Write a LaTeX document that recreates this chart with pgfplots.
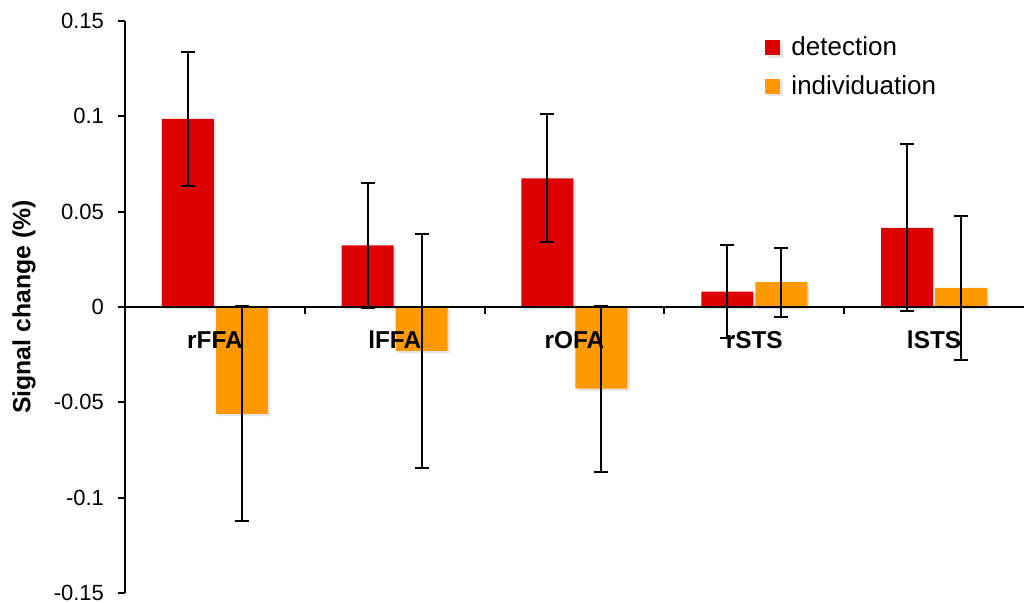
\documentclass[border=0pt]{standalone}
\usepackage{fontspec}
\setmainfont{Liberation Sans}
\usepackage{pgfplots}
\pgfplotsset{compat=1.18}
\usepackage{pgfplotstable}

\definecolor{detred}{RGB}{220,0,0}
\definecolor{indorange}{RGB}{255,153,0}

% mean signal change and error (half-length of the bar) per region
\pgfplotstableread{
x y e
0 0.0986 0.0350
1 0.0323 0.0328
2 0.0675 0.0335
3 0.0080 0.0245
4 0.0415 0.0438
}\detection
\pgfplotstableread{
x y e
0 -0.0560 0.0565
1 -0.0230 0.0612
2 -0.0428 0.0435
3 0.0130 0.0180
4 0.0100 0.0376
}\individuation

\tikzset{barshadow/.style={preaction={fill=black!20, opacity=0.5,
  transform canvas={xshift=1.2pt, yshift=-1.2pt}}}}

\begin{document}
\begin{tikzpicture}
\path[use as bounding box] (-62.5pt,-5pt) rectangle (449.5pt,296.5pt);
\begin{axis}[
  at={(0pt,0pt)}, anchor=south west,
  scale only axis, width=449.5pt, height=286pt,
  xmin=-0.5, xmax=4.5, ymin=-0.15, ymax=0.15,
  axis x line=middle, axis y line=left,
  axis on top,
  x axis line style={-, line width=1pt},
  y axis line style={-, line width=1pt},
  tick align=outside,
  xtick={0,1,2,3,4},
  xticklabels={rFFA,lFFA,rOFA,rSTS,lSTS},
  minor xtick={0.5,1.5,2.5,3.5},
  major x tick style={draw=none},
  minor x tick style={black, line width=1pt},
  minor tick length=3.5pt,
  ytick={-0.15,-0.1,-0.05,0,0.05,0.1,0.15},
  yticklabels={-0.15,-0.1,-0.05,0,0.05,0.1,0.15},
  y tick style={black, line width=1pt},
  major tick length=3.5pt,
  /pgf/number format/assume math mode=true,
  yticklabel style={font=\fontsize{11}{13}\selectfont, xshift=-3.5pt},
  xticklabel style={font=\bfseries\fontsize{12.2}{14}\selectfont, anchor=center, yshift=-13pt},
  ylabel={Signal change (\%)},
  every axis y label/.style={at={(axis description cs:-0.1123,0.5)}, rotate=90, anchor=center,
    font=\bfseries\fontsize{12.4}{14}\selectfont},
  ybar=1pt, bar width=26pt,
  error bars/y dir=both, error bars/y explicit,
  error bars/error bar style={black, line width=1pt},
  error bars/error mark options={draw=black, line width=1pt, mark size=3.5pt, rotate=90},
  legend image code/.code={\fill[#1, draw=none] (0pt,-3.75pt) rectangle (7.5pt,3.75pt);},
  legend style={draw=none, fill=none, at={(rel axis cs:0.712,0.98)}, anchor=north west,
    font=\fontsize{13}{15}\selectfont, row sep=4.5pt, inner sep=0pt,
    nodes={inner sep=2pt},
    /tikz/every odd column/.append style={column sep=3.5pt}},
  legend cell align=left,
  clip=false,
]
\addplot[fill=detred, draw=none, barshadow] table[x=x, y=y, y error=e] {\detection};
\addplot[fill=indorange, draw=none, barshadow] table[x=x, y=y, y error=e] {\individuation};
\legend{detection, individuation}
\end{axis}
\end{tikzpicture}
\end{document}
